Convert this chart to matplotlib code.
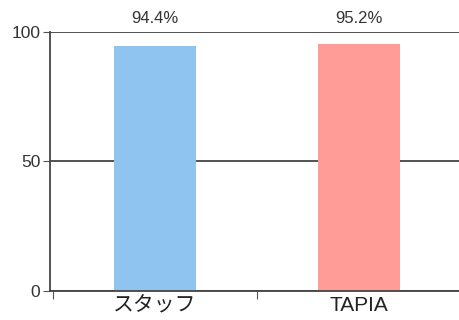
import matplotlib.pyplot as plt

plt.rcParams['font.family'] = ['Liberation Sans', 'Noto Sans CJK JP']

categories = ['スタッフ', 'TAPIA']
values = [94.4, 95.2]
labels = ['94.4%', '95.2%']
colors = ['#90c4f0', '#ff9c98']

fig = plt.figure(figsize=(4.6, 3.2), dpi=100)
ax = fig.add_axes([0.109, 0.091, 0.902, 0.809])

x = list(range(len(categories)))
ax.bar(x, values, width=0.4, color=colors, zorder=2)

for xi, v, lab in zip(x, values, labels):
    ax.text(xi, 102.5, lab, ha='center', va='bottom', fontsize=12, color='#333333')

ax.set_ylim(0, 100)
ax.set_xlim(-0.515, 1.52)
ax.set_yticks([0, 50, 100])
ax.set_yticklabels(['0', '50', '100'], fontsize=12.5, color='#333333')
ax.yaxis.grid(True, color='#444444', linewidth=1.3, zorder=1)

ax.set_xticks([-0.5, 0.5, 1.5])
ax.set_xticklabels(['', '', ''])
ax.set_xticks(x, minor=True)
ax.set_xticklabels(categories, minor=True, fontsize=15, color='#222222')
ax.tick_params(axis='x', which='minor', length=0, pad=4)
ax.tick_params(axis='x', which='major', length=6, color='#555555')
ax.tick_params(axis='y', length=5, color='#555555', pad=2)

for side in ['top', 'right']:
    ax.spines[side].set_visible(False)
ax.spines['left'].set_color('#444444')
ax.spines['bottom'].set_color('#444444')
ax.spines['left'].set_linewidth(1.3)
ax.spines['bottom'].set_linewidth(1.3)

fig.savefig('out.png', dpi=100)
